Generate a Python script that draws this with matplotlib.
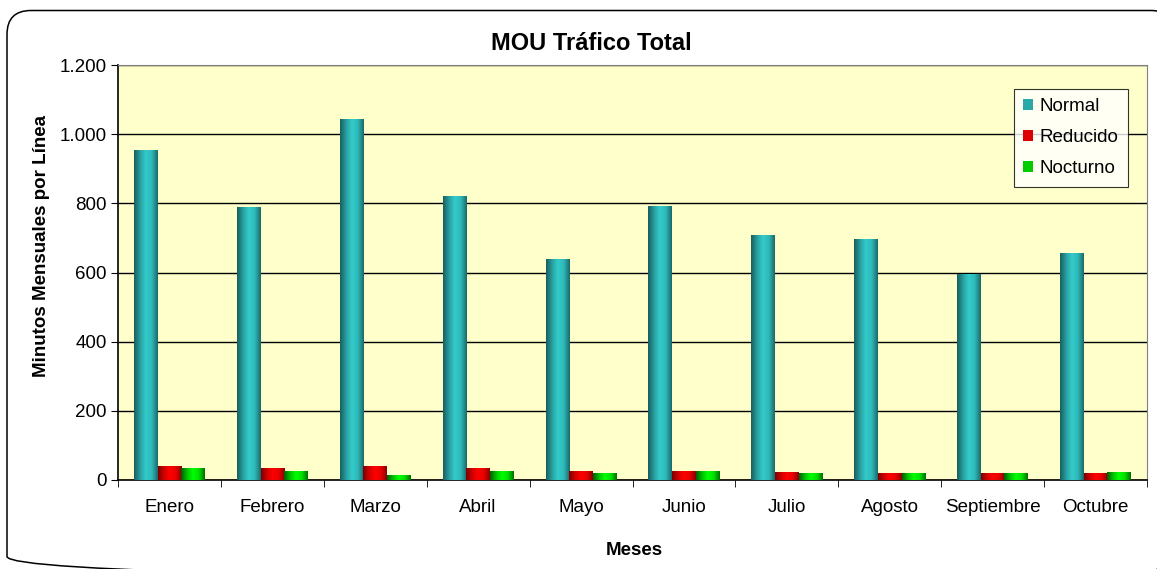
import matplotlib
matplotlib.use('Agg')
import matplotlib.pyplot as plt
from matplotlib.colors import LinearSegmentedColormap
from matplotlib.patches import FancyBboxPatch
import numpy as np

plt.rcParams['font.family'] = ['Liberation Sans', 'DejaVu Sans']

meses = ["Enero", "Febrero", "Marzo", "Abril", "Mayo", "Junio", "Julio",
         "Agosto", "Septiembre", "Octubre"]
normal = [954, 789, 1041, 821, 639, 792, 708, 694, 593, 656]
reducido = [38, 32, 40, 32, 26, 26, 23, 20, 20, 20]
nocturno = [32, 26, 12, 26, 20, 26, 20, 20, 20, 23]

series = [
    ("Normal", normal, ["#175f5f", "#2a9e9e", "#33cccc", "#2fb8b8", "#1a6a6a"], "#2aa8a8"),
    ("Reducido", reducido, ["#7a0000", "#d00000", "#ff0000", "#e80000", "#8a0000"], "#dd0000"),
    ("Nocturno", nocturno, ["#006000", "#00c000", "#00ff00", "#00e000", "#007000"], "#00cc00"),
]

W, H = 1157, 569
fig = plt.figure(figsize=(W / 100, H / 100), dpi=100)
fig.patch.set_facecolor('white')

# rounded chart-area border (right and bottom edges run off the canvas)
bg = fig.add_axes([0, 0, 1, 1])
bg.set_xlim(0, W)
bg.set_ylim(H, 0)
bg.axis('off')
bg.add_patch(FancyBboxPatch((7, 10.5), 1168, 570, boxstyle="round,pad=0,rounding_size=24",
                            facecolor='none', edgecolor='black', linewidth=1.1))

ax = fig.add_axes([118 / W, 1 - 480 / H, 1029 / W, 415 / H])
ax.set_facecolor('#ffffcc')

x = np.arange(len(meses))
w = 0.23
grad = np.linspace(0, 1, 64).reshape(1, -1)
handles = []
for i, (name, vals, cols, solid) in enumerate(series):
    bars = ax.bar(x + (i - 1) * w, vals, width=w, color=solid, linewidth=0, zorder=2, label=name)
    cmap = LinearSegmentedColormap.from_list(name, cols)
    for b in bars:
        bx, bw, bh = b.get_x(), b.get_width(), b.get_height()
        ax.imshow(grad, cmap=cmap, extent=[bx, bx + bw, 0, bh], aspect='auto',
                  interpolation='bilinear', zorder=3)
    handles.append(bars)

ax.set_xlim(-0.5, len(meses) - 0.5)
ax.set_ylim(0, 1200)
ax.set_yticks(np.arange(0, 1201, 200))
ax.set_yticklabels(["0", "200", "400", "600", "800", "1.000", "1.200"], fontsize=13.5)
ax.yaxis.grid(True, color='black', linewidth=1.0, zorder=1)
ax.set_axisbelow(True)

ax.set_xticks(x)
ax.set_xticklabels(meses, fontsize=13.5)
ax.set_xticks(np.arange(-0.5, len(meses), 1), minor=True)
ax.tick_params(axis='x', which='major', length=0, pad=14)
ax.tick_params(axis='x', which='minor', length=5, direction='out', color='black')
ax.tick_params(axis='y', length=5, direction='out', pad=3)

for s in ['top', 'right']:
    ax.spines[s].set_color('#808080')
for s in ['left', 'bottom']:
    ax.spines[s].set_color('black')
    ax.spines[s].set_linewidth(1.2)

fig.text(591 / W, 1 - 44 / H, "MOU Tráfico Total", fontsize=17, fontweight='bold',
         ha='center', va='center')
ax.text(-0.0748, 0.564, "Minutos Mensuales por Línea", transform=ax.transAxes,
        rotation=90, fontsize=13.5, fontweight='bold', ha='center', va='center')
ax.text(0.502, -0.169, "Meses", transform=ax.transAxes,
        fontsize=13.5, fontweight='bold', ha='center', va='center')

leg = ax.legend(handles=handles, loc='upper right', bbox_to_anchor=(1010 / 1029, (480 - 89) / 415),
                fontsize=13.5, frameon=True, fancybox=False, edgecolor='black',
                handlelength=0.55, handleheight=0.55, handletextpad=0.35,
                labelspacing=0.74, borderpad=0.5, borderaxespad=0)
leg.get_frame().set_linewidth(0.8)
leg.set_zorder(5)

fig.savefig("out.png", dpi=100, facecolor='white')
